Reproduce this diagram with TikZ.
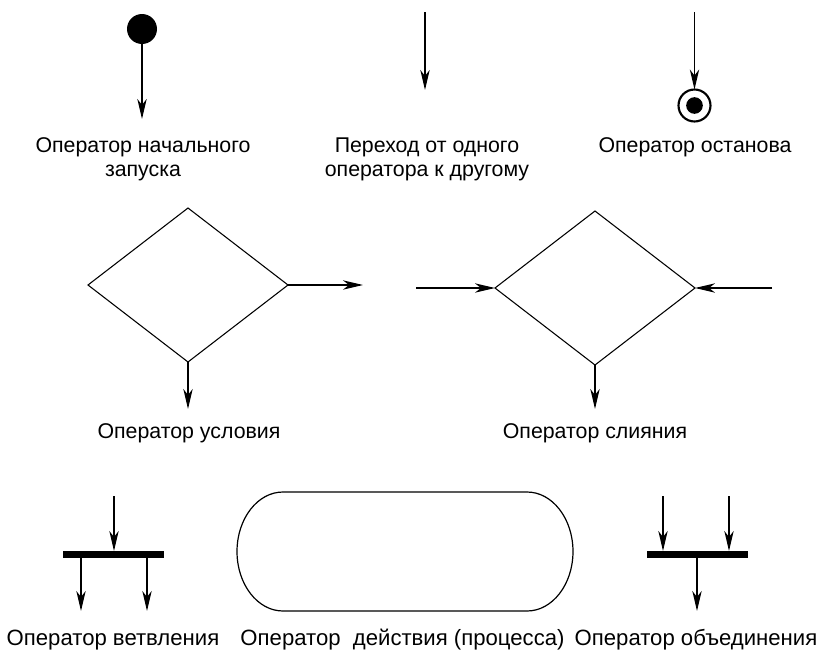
\documentclass[tikz,border=0pt]{standalone}
\usepackage{fontspec}
\setmainfont{Liberation Sans}
\usetikzlibrary{arrows.meta,shapes.geometric}
\begin{document}
\begin{tikzpicture}[x=0.75pt,y=-0.75pt,
  flow/.style={line width=1.05pt,-{Stealth[length=15pt,width=7pt,inset=4.5pt]}},
  lbl/.style={font=\fontsize{16}{17.6}\selectfont,align=center,anchor=base,inner sep=0pt},
  lblb/.style={lbl,font=\fontsize{16.6}{18}\selectfont},
  cond/.style={diamond,draw,line width=0.8pt,minimum width=150pt,minimum height=115.5pt,inner sep=0pt},
  bar/.style={rectangle,fill=black,minimum width=75.75pt,minimum height=5.25pt,inner sep=0pt},
  every node/.style={outer sep=0pt}]
\useasboundingbox (0,0) rectangle (819,650);

% initial state and its outgoing transition
\node (start) [circle,fill=black,minimum size=22.5pt,inner sep=0pt] at (142,29) {};
\coordinate (startend) at (142,119);
\draw[flow] (start) -- (startend);
\node[lbl] (startlbl) at (143,176) {Оператор начального\\запуска};

% a plain transition
\coordinate (tr1) at (425,12);
\coordinate (tr2) at (425,90);
\draw[flow] (tr1) -- (tr2);
\node[lbl] (trlbl) at (427,176) {Переход от одного\\оператора к другому};

% final state
\node (stop) [circle,draw,line width=1.6pt,minimum size=24pt,inner sep=0pt] at (694.5,105.5) {};
\node (stopdot) [circle,fill=black,minimum size=12.5pt,inner sep=0pt] at (stop) {};
\coordinate (stopin) at (694.5,12);
\draw[flow] (stopin) -- (stop.north);
\node[lbl] (stoplbl) at (695,152) {Оператор останова};

% decision
\node[cond] (dec) at (188,285) {};
\coordinate (decout) at (363,285);
\coordinate (decdown) at (188,409);
\draw[flow] (dec.east) -- (decout);
\draw[flow] (dec.south) -- (decdown);
\node[lbl] (declbl) at (189,438) {Оператор условия};

% merge
\node[cond] (mrg) at (595,288) {};
\coordinate (mrgl) at (416,288);
\coordinate (mrgr) at (772,288);
\coordinate (mrgdown) at (595,409);
\draw[flow] (mrgl) -- (mrg.west);
\draw[flow] (mrgr) -- (mrg.east);
\draw[flow] (mrg.south) -- (mrgdown);
\node[lbl] (mrglbl) at (595,438) {Оператор слияния};

% fork
\node[bar] (fork) at (113.5,554.5) {};
\coordinate (forkin) at (114,496);
\coordinate (forko1) at (81,611);
\coordinate (forko2) at (147,611);
\draw[flow] (forkin) -- (forkin |- fork.north);
\draw[flow] (forko1 |- fork.south) -- (forko1);
\draw[flow] (forko2 |- fork.south) -- (forko2);
\node[lblb] (forklbl) at (113,645) {Оператор ветвления};

% action state
\draw[line width=0.9pt] (283,492) -- (527,492)
  arc[start angle=-90,end angle=90,x radius=46,y radius=59.5]
  -- (283,611)
  arc[start angle=90,end angle=270,x radius=46,y radius=59.5] -- cycle;
\node[lblb] (proclbl) at (402.5,645) {Оператор\ \ действия (процесса)};

% join
\node[bar] (join) at (697,554.5) {};
\coordinate (joini1) at (663,496);
\coordinate (joini2) at (729,496);
\coordinate (joinout) at (697,611);
\draw[flow] (joini1) -- (joini1 |- join.north);
\draw[flow] (joini2) -- (joini2 |- join.north);
\draw[flow] (join.south) -- (joinout);
\node[lblb] (joinlbl) at (696,645) {Оператор объединения};
\end{tikzpicture}
\end{document}
